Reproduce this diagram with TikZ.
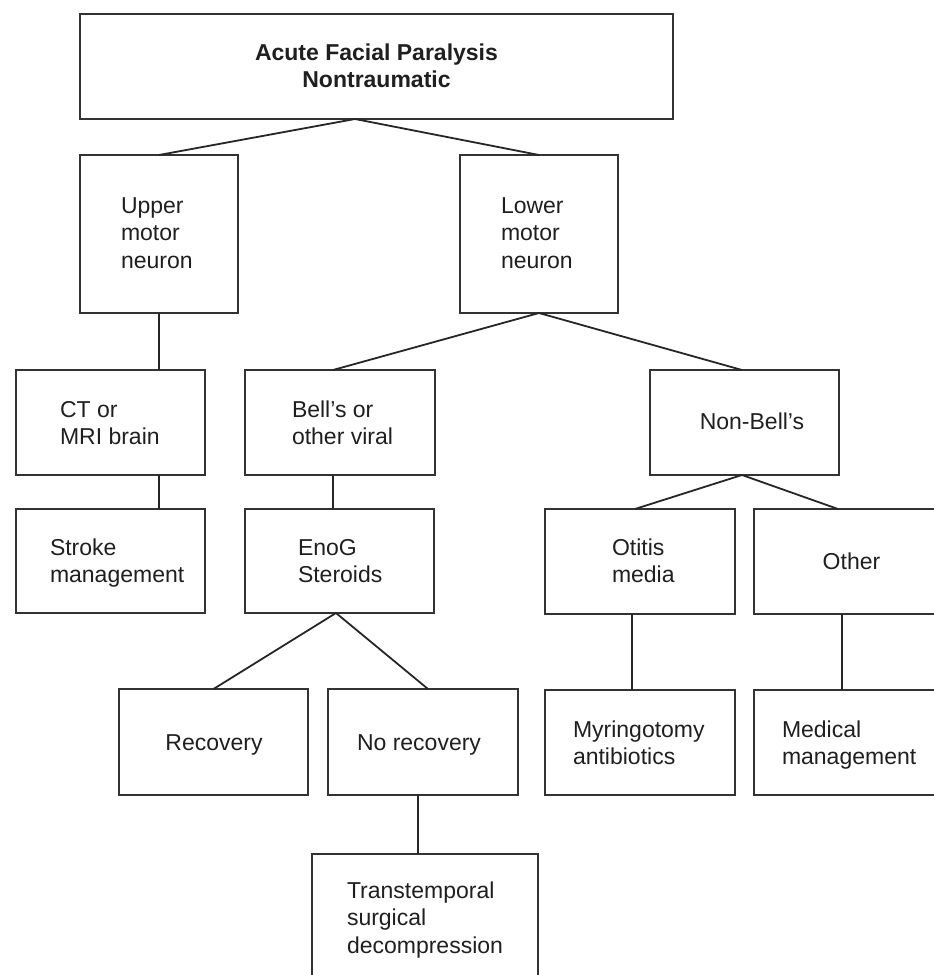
\documentclass[tikz,border=0pt]{standalone}
\usepackage{fontspec}
\setmainfont{Liberation Sans}
\begin{document}
\begin{tikzpicture}[x=1pt,y=1pt,
  box/.style={draw=black!80, line width=1.8pt, rectangle, anchor=north west, inner sep=0pt, outer sep=0pt},
  lbl/.style={inner sep=0pt, outer sep=0pt, text=black!88, font=\fontsize{23}{27.5}\selectfont},
  conn/.style={draw=black!85, line width=1.8pt}]
\useasboundingbox (0,0) rectangle (934,-975);
\clip (0,0) rectangle (934,-975);
% boxes
\node[box, minimum width=593, minimum height=105] (top) at (80,-14) {};
\node[box, minimum width=158, minimum height=158] (upper) at (80,-155) {};
\node[box, minimum width=158, minimum height=158] (lower) at (460,-155) {};
\node[box, minimum width=189, minimum height=105] (ct) at (16,-370) {};
\node[box, minimum width=190, minimum height=105] (bell) at (245,-370) {};
\node[box, minimum width=189, minimum height=105] (nonbell) at (650,-370) {};
\node[box, minimum width=189, minimum height=104] (stroke) at (16,-509) {};
\node[box, minimum width=189, minimum height=104] (enog) at (245,-509) {};
\node[box, minimum width=190, minimum height=105] (otitis) at (545,-509) {};
\node[box, minimum width=190, minimum height=105] (other) at (754,-509) {};
\node[box, minimum width=189, minimum height=106] (recov) at (119,-689) {};
\node[box, minimum width=190, minimum height=106] (norec) at (328,-689) {};
\node[box, minimum width=190, minimum height=105] (myr) at (545,-690) {};
\node[box, minimum width=190, minimum height=105] (med) at (754,-690) {};
\node[box, minimum width=226, minimum height=140] (trans) at (312,-854) {};
% texts
\node[lbl, anchor=base, font=\fontsize{23}{27}\selectfont\bfseries] (ttop) at (376.5,-60) {\begin{tabular}[t]{@{}c@{}}Acute Facial Paralysis\\Nontraumatic\end{tabular}};
\node[lbl, anchor=base west] (tupper) at (121,-213) {\begin{tabular}[t]{@{}l@{}}Upper\\motor\\neuron\end{tabular}};
\node[lbl, anchor=base west] (tlower) at (501,-213) {\begin{tabular}[t]{@{}l@{}}Lower\\motor\\neuron\end{tabular}};
\node[lbl, anchor=base west] (tct) at (60,-417) {\begin{tabular}[t]{@{}l@{}}CT or\\MRI brain\end{tabular}};
\node[lbl, anchor=base west] (tbell) at (292,-417) {\begin{tabular}[t]{@{}l@{}}Bell’s or\\other viral\end{tabular}};
\node[lbl, anchor=base] (tnonbell) at (752,-429) {Non-Bell’s};
\node[lbl, anchor=base west] (tstroke) at (50,-555) {\begin{tabular}[t]{@{}l@{}}Stroke\\management\end{tabular}};
\node[lbl, anchor=base west] (tenog) at (298,-555) {\begin{tabular}[t]{@{}l@{}}EnoG\\Steroids\end{tabular}};
\node[lbl, anchor=base west] (totitis) at (612,-555) {\begin{tabular}[t]{@{}l@{}}Otitis\\media\end{tabular}};
\node[lbl, anchor=base] (tother) at (851.5,-569) {Other};
\node[lbl, anchor=base] (trecov) at (214,-750) {Recovery};
\node[lbl, anchor=base] (tnorec) at (419,-750) {No recovery};
\node[lbl, anchor=base west] (tmyr) at (573,-737) {\begin{tabular}[t]{@{}l@{}}Myringotomy\\antibiotics\end{tabular}};
\node[lbl, anchor=base west] (tmed) at (782,-737) {\begin{tabular}[t]{@{}l@{}}Medical\\management\end{tabular}};
\node[lbl, anchor=base west] (ttrans) at (347,-898) {\begin{tabular}[t]{@{}l@{}}Transtemporal\\surgical\\decompression\end{tabular}};
% connector anchor points
\coordinate (ta) at ([xshift=-21.5pt]top.south);
\coordinate (bx) at ([xshift=-7pt]bell.north);
\coordinate (bs) at ([xshift=-7pt]bell.south);
\coordinate (nba) at ([xshift=-2.5pt]nonbell.north);
\coordinate (nbs) at ([xshift=-2.5pt]nonbell.south);
\coordinate (ea) at ([xshift=-3.5pt]enog.south);
\coordinate (nrt) at ([xshift=5pt]norec.north);
\coordinate (nrs) at ([xshift=-5pt]norec.south);
\coordinate (ott) at ([xshift=-5pt]otitis.north);
\coordinate (ots) at ([xshift=-8pt]otitis.south);
\coordinate (oht) at ([xshift=-11pt]other.north);
\coordinate (ohs) at ([xshift=-7pt]other.south);
% connectors
\draw[conn] (upper.north) -- (ta) -- (lower.north);
\draw[conn] (upper.south) -- (upper.south |- ct.north);
\draw[conn] (upper.south |- ct.south) -- (upper.south |- stroke.north);
\draw[conn] (bx) -- (lower.south) -- (nba);
\draw[conn] (bs) -- (bs |- enog.north);
\draw[conn] (recov.north) -- (ea) -- (nrt);
\draw[conn] (nrs) -- (nrs |- trans.north);
\draw[conn] (ott) -- (nbs) -- (oht);
\draw[conn] (ots) -- (ots |- myr.north);
\draw[conn] (ohs) -- (ohs |- med.north);
\end{tikzpicture}
\end{document}
